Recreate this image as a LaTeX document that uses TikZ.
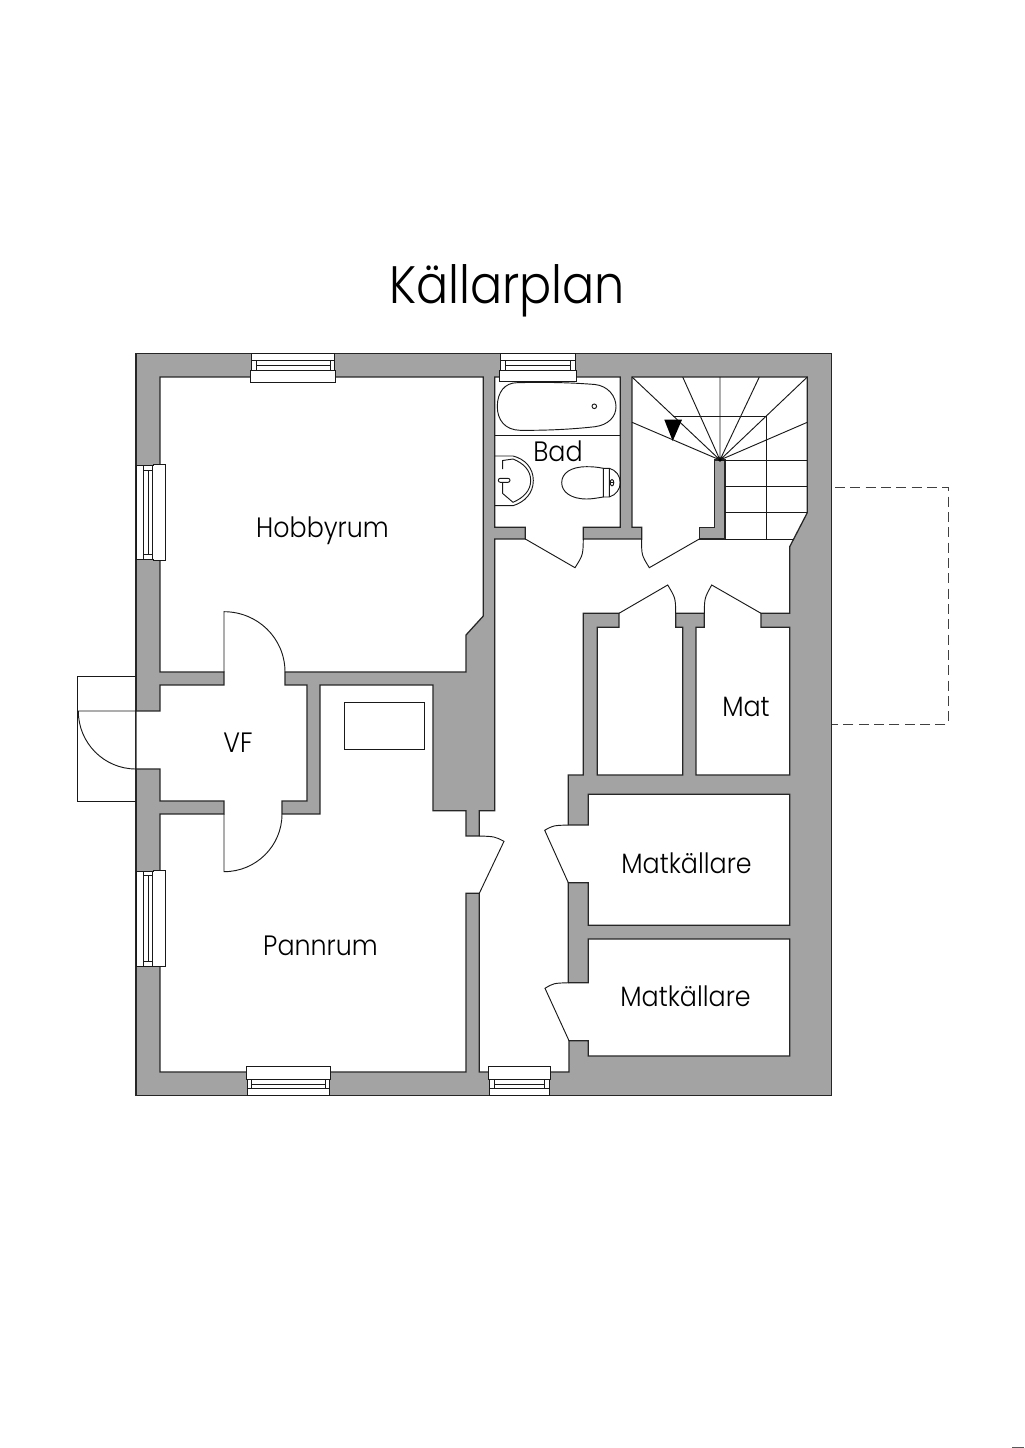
\documentclass[tikz,border=0pt]{standalone}
\usepackage{fontspec}
\setmainfont[FakeStretch=0.905]{Poppins Light}
\definecolor{wallgray}{HTML}{A3A3A3}
\tikzset{
  wallfill/.style={fill=wallgray,draw=black!85,line width=0.95pt,line join=miter},
  thin line/.style={draw=black!90,line width=0.7pt},
  dash line/.style={draw=black!75,line width=0.6pt,dash pattern=on 7.5pt off 4pt},
  glass/.style={fill=white,draw=black!90,line width=0.7pt},
  label/.style={anchor=base,text=black,inner sep=0pt,font=\fontsize{21pt}{24pt}\selectfont},
  title text/.style={anchor=base,text=black,inner sep=0pt,font=\fontsize{39.5pt}{44pt}\selectfont},
}
\begin{document}
\begin{tikzpicture}[x=0.75pt,y=-0.75pt]
\useasboundingbox (0,0) rectangle (1024,1448);
\fill[white] (0,0) rectangle (1024,1448);
% walls
\path[wallfill] (136,353.3) rectangle (831.5,1095.7);
% all connected interior
\path[fill=white,draw=black!85,line width=0.95pt,line join=miter]
 (160,377) -- (483.3,377) -- (483.3,616) -- (466,635) -- (466,672) -- (285,672)
 -- (285,685) -- (307,685) -- (307,801) -- (282,801) -- (282,814) -- (320,814)
 -- (320,685) -- (433,685) -- (433,810.7) -- (466,810.7) -- (466,836) -- (479.3,836)
 -- (479.3,810.7) -- (494.7,810.7) -- (494.7,539) -- (525.3,539) -- (525.3,527.3)
 -- (494.7,527.3) -- (494.7,377) -- (620.3,377) -- (620.3,527.3) -- (583.3,527.3)
 -- (583.3,539) -- (641.7,539) -- (641.7,527.3) -- (632,527.3) -- (632,377)
 -- (807.3,377) -- (807.3,512.7) -- (789.7,546.7) -- (789.7,613.3) -- (761,613.3)
 -- (761,627.3) -- (789.7,627.3) -- (789.7,775) -- (696,775) -- (696,627.3)
 -- (704.3,627.3) -- (704.3,613.3) -- (675.7,613.3) -- (675.7,627.3) -- (682.7,627.3)
 -- (682.7,775) -- (597.3,775) -- (597.3,627.3) -- (619,627.3) -- (619,613.3)
 -- (583.3,613.3) -- (583.3,775) -- (568.3,775) -- (568.3,825) -- (588.3,825)
 -- (588.3,794.3) -- (789.7,794.3) -- (789.7,925.3) -- (588.3,925.3) -- (588.3,882.7)
 -- (568.3,882.7) -- (568.3,982.7) -- (588.3,982.7) -- (588.3,939) -- (789.7,939)
 -- (789.7,1056) -- (588.3,1056) -- (588.3,1040.7) -- (569,1040.7) -- (569,1072)
 -- (479.3,1072) -- (479.3,893.3) -- (466,893.3) -- (466,1072) -- (160,1072)
 -- (160,814) -- (224,814) -- (224,801) -- (160,801) -- (160,769) -- (136,769)
 -- (136,711) -- (160,711) -- (160,685) -- (224,685) -- (224,672) -- (160,672) -- cycle;
% stair core wall
\path[wallfill] (714.3,460) -- (725,460) -- (725,539) -- (699.3,539) -- (699.3,527.3) -- (714.3,527.3) -- cycle;
% stairs
\draw[thin line] (632,377) -- (720,460) (682.7,377) -- (720,460) (720,377) -- (720,460)
  (759.3,377) -- (720,460) (807.3,377) -- (720,460) (807.3,422.3) -- (720,460) (632,422.3) -- (720,460);
\draw[thin line] (673.3,416) -- (766,416) -- (766,539);
\draw[thin line] (720,460) -- (807.3,460) (725,486) -- (807.3,486) (725,512.3) -- (807.3,512.3) (725,539) -- (793.3,539);
\fill[black] (664.3,419.7) -- (682,419.7) -- (672.7,441) -- cycle;
\fill[black] (720,460) circle[radius=1.8];
% doors
\draw[thin line] (224,672) -- (224,611.7) .. controls (257.7,611.7) and (285,638.3) .. (285,672);
\draw[thin line] (224,814) -- (224,871.7) .. controls (256,871.7) and (282,846) .. (282,814);
\draw[thin line] (136,711) -- (78.3,711) .. controls (78.3,743) and (104,769) .. (136,769);
\draw[thin line] (136,676.3) -- (77.7,676.3) -- (77.7,801.3) -- (136,801.3);
\draw[thin line] (525.3,539) -- (575,567.7) .. controls (583,555) .. (583.3,539);
\draw[thin line] (699.3,539) -- (649.3,567.7) .. controls (641.5,555) .. (641.7,539);
\draw[thin line] (619,613.3) -- (667.7,585) .. controls (675.5,598) .. (675.7,613.3);
\draw[thin line] (761,613.3) -- (711.7,585) .. controls (704.5,598) .. (704.3,613.3);
\draw[thin line] (479.3,893.3) -- (504,841.3) .. controls (494.6,836.5) .. (479.3,836);
\draw[thin line] (568.3,882.7) -- (544.7,830.3) .. controls (553,825.5) .. (568.3,825);
\draw[thin line] (569,1040.7) -- (545,988.3) .. controls (553.5,983.2) .. (569,982.7);
% storage rectangle in Pannrum
\draw[thin line] (344,702.7) rectangle (424.5,749);
% windows top
\path[glass] (251.3,353.3) -- (334,353.3) -- (334,370) -- (335.3,370) -- (335.3,382.3) -- (250.3,382.3) -- (250.3,370) -- (251.3,370) -- cycle;
\draw[thin line] (251.3,360.7) -- (334,360.7) (251.3,370) -- (334,370) (256.3,360.7) -- (256.3,370) (330,360.7) -- (330,370) (256.3,365.4) -- (330,365.4);
\path[glass] (500.7,353.3) -- (575.7,353.3) -- (575.7,370) -- (576.7,370) -- (576.7,381.7) -- (499.3,381.7) -- (499.3,370) -- (500.7,370) -- cycle;
\draw[thin line] (500.7,360.7) -- (575.7,360.7) (500.7,370) -- (575.7,370) (505,360.7) -- (505,370) (570.7,360.7) -- (570.7,370) (505,365.4) -- (570.7,365.4);
% windows left
\path[glass] (136,465) -- (153,465) -- (153,464.3) -- (165.3,464.3) -- (165.3,560) -- (153,560) -- (153,559.3) -- (136,559.3) -- cycle;
\draw[thin line] (143.3,465) -- (143.3,559.3) (148,470) -- (148,554.3) (152.7,465) -- (152.7,559.3) (143.3,470) -- (152.7,470) (143.3,554.3) -- (152.7,554.3);
\path[glass] (136,871.3) -- (153,871.3) -- (153,870.7) -- (165.3,870.7) -- (165.3,966.7) -- (153,966.7) -- (153,966) -- (136,966) -- cycle;
\draw[thin line] (143.3,871.3) -- (143.3,966) (148,875.7) -- (148,961.3) (152.7,871.3) -- (152.7,966) (143.3,875.7) -- (152.7,875.7) (143.3,961.3) -- (152.7,961.3);
% windows bottom
\path[glass] (246,1066.7) -- (330.7,1066.7) -- (330.7,1079.3) -- (329.3,1079.3) -- (329.3,1095.7) -- (247.3,1095.7) -- (247.3,1079.3) -- (246,1079.3) -- cycle;
\draw[thin line] (247.3,1079.3) -- (329.3,1079.3) (247.3,1088.7) -- (329.3,1088.7) (251.7,1079.3) -- (251.7,1088.7) (325,1079.3) -- (325,1088.7) (251.7,1084) -- (325,1084);
\path[glass] (488.3,1066.7) -- (550.3,1066.7) -- (550.3,1079.3) -- (549.3,1079.3) -- (549.3,1095.7) -- (489.7,1095.7) -- (489.7,1079.3) -- (488.3,1079.3) -- cycle;
\draw[thin line] (489.7,1079.3) -- (549.3,1079.3) (489.7,1088.7) -- (549.3,1088.7) (494.3,1079.3) -- (494.3,1088.7) (544.7,1079.3) -- (544.7,1088.7) (494.3,1084) -- (544.7,1084);
% bathroom
\draw[thin line] (494.7,435) -- (620.3,435);
\draw[thin line] (497.3,406.5) .. controls (497.3,392) and (505,382.7) .. (517,382.7)
  .. controls (545,382) and (570,382.5) .. (595,384.5)
  .. controls (608,386) and (616,396) .. (616,406.7)
  .. controls (616,417) and (608,425) .. (595,426.7)
  .. controls (570,429.5) and (545,430.5) .. (520,430.3)
  .. controls (505,430) and (497.3,420) .. cycle;
\draw[thin line] (594.3,406.3) circle[radius=2.3];
% sink
\draw[thin line] (494.7,456) -- (513,456) .. controls (525,459) and (533.3,468) .. (533.3,480.5) .. controls (533.3,493) and (525,502) .. (513,505.7) -- (494.7,505.7);
\draw[thin line] (502.7,469) -- (502.7,460.5) -- (513,459) .. controls (523,463) and (530.7,470) .. (530.7,480.5) .. controls (530.7,491) and (523,498) .. (513,502.3) -- (502.7,493.5) -- (502.7,482.3);
\draw[thin line,rounded corners=1.5pt] (498.3,478.3) rectangle (510,482.3);
% toilet
\draw[thin line] (603.3,468.3) .. controls (597,467) and (592,466.7) .. (586.7,466.7)
  .. controls (571,466.7) and (561.7,473) .. (561.7,482.7)
  .. controls (561.7,492) and (571,499) .. (586.7,499)
  .. controls (592,499) and (597,498) .. (603.3,497) -- cycle;
\draw[thin line] (609.3,468.3) .. controls (616,470) and (620.3,476) .. (620.3,482.7) .. controls (620.3,489) and (616,495) .. (609.3,497) -- (603.3,497) (603.3,468.3) -- (609.3,468.3) -- (609.3,497);
\draw[thin line] (612,482.7) ellipse[x radius=1.8,y radius=3.2];
\draw[thin line] (610.2,482.7) -- (613.8,482.7);
% dashed outline
\draw[dash line] (835,487) -- (948,487) -- (948,724) -- (831.5,724);
% labels
\node[title text] (title) at (507,303) {Källarplan};
\node[label] (hobby) at (322.5,537) {Hobbyrum};
\node[label] (bad) at (558,461) {Bad};
\node[label] (vf) at (238,752) {VF};
\node[label] (pann) at (320.5,955) {Pannrum};
\node[label] (mat) at (746,716) {Mat};
\node[label] (matk1) at (686.5,873) {Matkällare};
\node[label] (matk2) at (685.5,1006) {Matkällare};
% edge mark
\fill[black!65] (1012,1446.5) rectangle (1024,1448);
\end{tikzpicture}
\end{document}
